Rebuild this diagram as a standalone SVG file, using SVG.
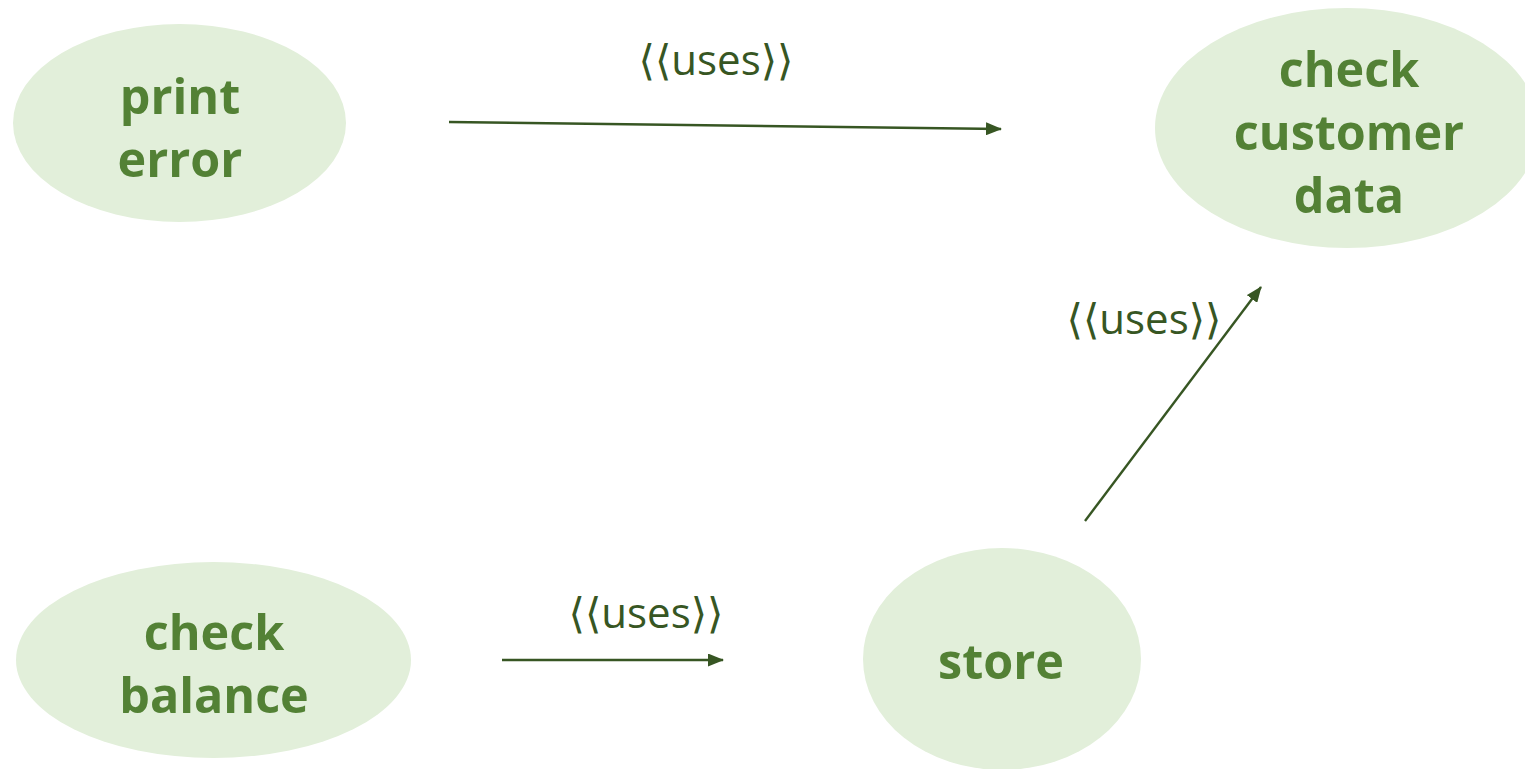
<svg xmlns="http://www.w3.org/2000/svg" width="1525" height="769" viewBox="0 0 1525 769">
<style>
.node{fill:#E2EFDA}
.nt{font-family:"Open Sans","Noto Sans",sans-serif;font-weight:700;font-size:48.5px;fill:#538135;text-anchor:middle}
.lbl{font-family:"Open Sans","Noto Sans","DejaVu Sans",sans-serif;font-size:42px;fill:#375623;text-anchor:middle}
.conn{stroke:#375623;stroke-width:2.4;fill:none;marker-end:url(#arr)}
</style>
<defs>
<marker id="arr" viewBox="0 0 16 13" refX="15" refY="6.5" markerWidth="16" markerHeight="13" markerUnits="userSpaceOnUse" orient="auto">
<path d="M0,0 L16,6.5 L0,13 z" fill="#375623"/>
</marker>
</defs>
<rect width="1525" height="769" fill="#ffffff"/>
<g id="print-error">
<ellipse class="node" cx="179.5" cy="123" rx="166.5" ry="99"/>
<text class="nt" x="180" y="114">print</text>
<text class="nt" x="180" y="177">error</text>
</g>
<g id="check-customer-data">
<ellipse class="node" cx="1347" cy="128" rx="192" ry="120"/>
<text class="nt" x="1349" y="87">check</text>
<text class="nt" x="1349" y="150">customer</text>
<text class="nt" x="1349" y="213">data</text>
</g>
<g id="check-balance">
<ellipse class="node" cx="213.5" cy="660" rx="197.5" ry="98"/>
<text class="nt" x="214" y="650">check</text>
<text class="nt" x="214" y="713">balance</text>
</g>
<g id="store">
<ellipse class="node" cx="1002" cy="659" rx="139" ry="111"/>
<text class="nt" x="1001" y="679">store</text>
</g>
<g id="connectors">
<line class="conn" x1="449" y1="122" x2="1001" y2="129"/>
<line class="conn" x1="1085" y1="521" x2="1261" y2="287"/>
<line class="conn" x1="502" y1="660" x2="723" y2="660"/>
<text class="lbl" x="716" y="75">⟨⟨uses⟩⟩</text>
<text class="lbl" x="1144" y="334">⟨⟨uses⟩⟩</text>
<text class="lbl" x="646" y="628">⟨⟨uses⟩⟩</text>
</g>
</svg>
